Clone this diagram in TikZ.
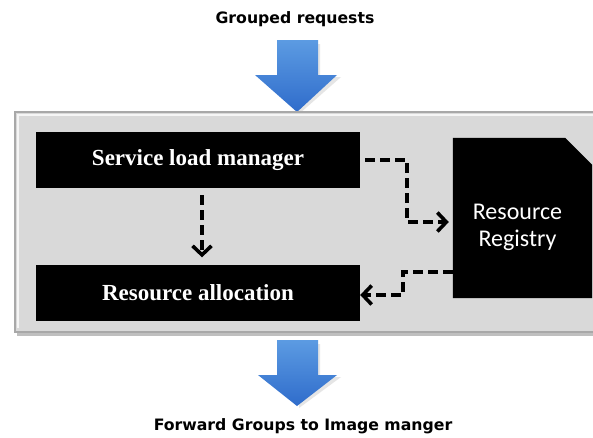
\documentclass[tikz,border=0pt]{standalone}
\usepackage{fontspec}
\setmainfont{Liberation Serif}
\newfontfamily\labelfont{DejaVu Sans}
\newfontfamily\regfont{Carlito}
\usetikzlibrary{arrows.meta}
\definecolor{panelgray}{HTML}{D9D9D9}
\definecolor{paneledge}{HTML}{A8A8A8}
\definecolor{arrowtop}{HTML}{5C9BE2}
\definecolor{arrowbot}{HTML}{2F6CCB}
\tikzset{
  blackbox/.style={fill=black, text=white, font=\bfseries\fontsize{23}{26}\selectfont,
    minimum width=324pt, minimum height=56pt, inner sep=0pt},
  regbox/.style={minimum width=139pt, minimum height=160pt, inner sep=0pt},
  regtext/.style={text=white, align=center, font=\regfont\fontsize{24}{27}\selectfont,
    inner sep=0pt},
  flow/.style={line width=3.6pt, dash pattern=on 10pt off 5pt,
    -{Straight Barb[length=9pt,width=19pt,line width=3.6pt]}},
  caption/.style={font=\labelfont\bfseries\fontsize{15.7}{18}\selectfont},
  bluearrow/.style={top color=arrowtop, bottom color=arrowbot, draw=none},
}
\begin{document}
\begin{tikzpicture}[x=1pt,y=-1pt]
  \useasboundingbox (0,0) rectangle (593,437);
  \clip (0,0) rectangle (593,437);
  \fill[white] (0,0) rectangle (593,437);

  % captions above and below
  \node[caption] (top) at (295,19) {Grouped requests};
  \node[caption] (bot) at (303,426) {Forward Groups to Image manger};

  % big block arrows with a soft shadow on the right
  \fill[gray!20] (320,44) -- (320,77) -- (341,77) -- (299,114) -- (299,44) -- cycle;
  \shade[bluearrow] (277,40) -- (318,40) -- (318,75) -- (337,75) -- (297,112)
     -- (255,75) -- (277,75) -- cycle;
  \fill[gray!20] (320,344) -- (320,377) -- (341,377) -- (299,408) -- (299,344) -- cycle;
  \shade[bluearrow] (277,340) -- (318,340) -- (318,375) -- (337,375) -- (297,406)
     -- (258,375) -- (277,375) -- cycle;

  % grey panel with bevel and shadow
  \fill[gray!50] (17,116) rectangle (600,336);
  \fill[panelgray, draw=paneledge, line width=1.2pt] (15,112) rectangle (600,332);
  \draw[white!92!gray, line width=2pt] (18,328) -- (18,115) -- (600,115);

  % components
  \node[blackbox] (slm) at (198,160) {Service load manager};
  \node[blackbox] (ra) at (198,292.5) {Resource allocation};
  \node[regbox] (reg) at (522.5,218) {};
  % registry block: black with its top right corner cut off
  \fill[black] (reg.south west) -- (reg.north west) -- ([xshift=-27pt]reg.north east)
     -- ([yshift=-27pt]reg.north east) -- (reg.south east) -- cycle;
  \node[regtext] (regname) at ([xshift=-5pt,yshift=-9pt]reg.center) {Resource\\Registry};

  % dashed connectors
  \coordinate (k1) at (407,222);
  \coordinate (k2) at (403,272);
  \coordinate (k3) at (403,295);
  \draw[flow] ([xshift=5pt]slm.east) -| (k1) -- ([xshift=-4pt]k1 -| reg.west);
  \draw[flow] (k2 -| reg.west) -- (k2) -- (k3) -- (k3 -| ra.east);
  \draw[flow] ([xshift=4pt,yshift=-7pt]slm.south) -- ([xshift=4pt,yshift=7pt]ra.north);
\end{tikzpicture}
\end{document}
